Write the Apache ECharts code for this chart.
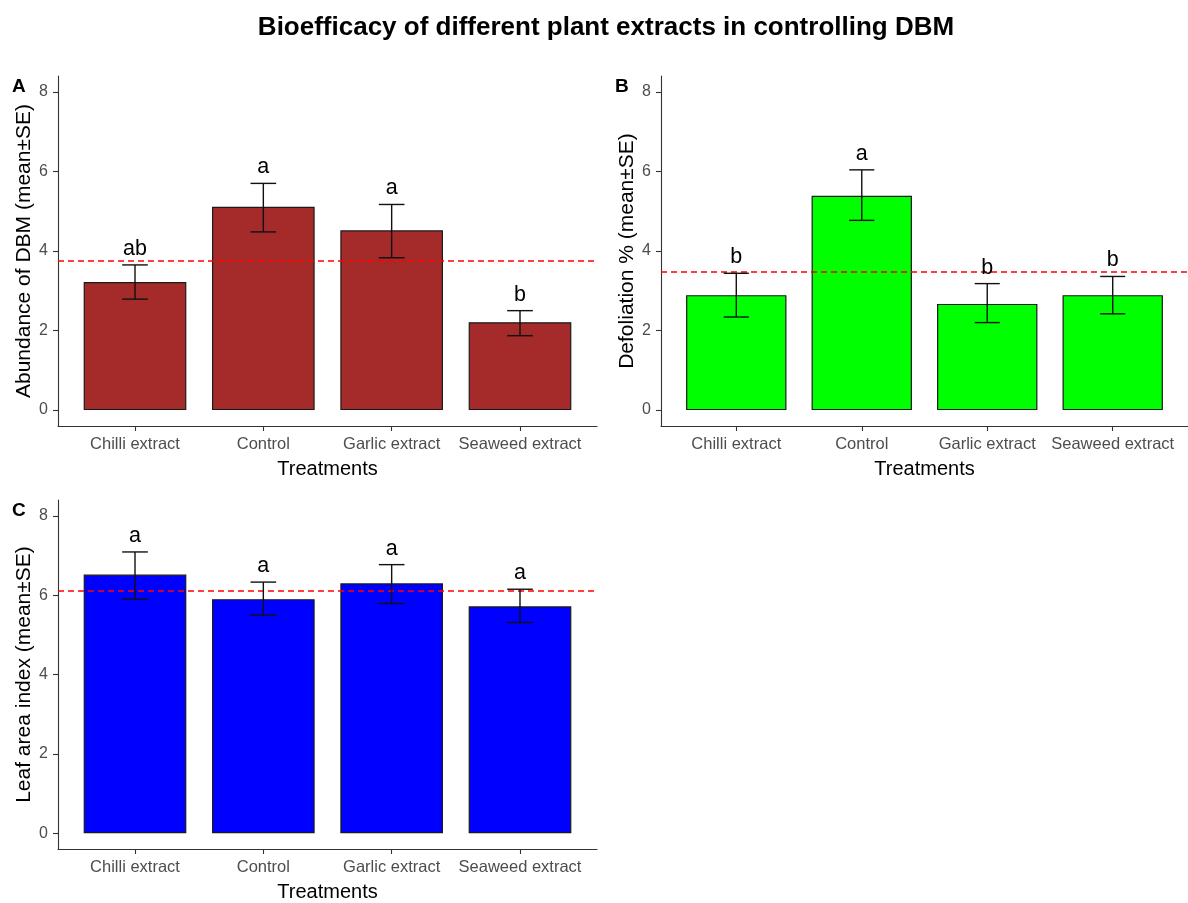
<!DOCTYPE html>
<html>
<head>
<meta charset="utf-8">
<script src="https://cdn.jsdelivr.net/npm/echarts@6/dist/echarts.min.js"></script>
<style>
html,body{margin:0;padding:0;background:#fff;}
#chart{width:1188px;height:903px;}
</style>
</head>
<body>
<div id="chart"></div>
<script>
// ---------- data ----------
const categories = ['Chilli extract', 'Control', 'Garlic extract', 'Seaweed extract'];
const categoryPositions = [1, 2, 3, 4];
const yTickValues = [0, 2, 4, 6, 8];

const abundanceMean = [3.22, 5.11, 4.52, 2.21];
const abundanceLow = [2.79, 4.48, 3.83, 1.87];
const abundanceHigh = [3.65, 5.70, 5.17, 2.50];
const abundanceLetters = ['ab', 'a', 'a', 'b'];
const abundanceOverall = 3.76;

const defoliationMean = [2.89, 5.39, 2.67, 2.89];
const defoliationLow = [2.34, 4.77, 2.20, 2.42];
const defoliationHigh = [3.44, 6.04, 3.18, 3.36];
const defoliationLetters = ['b', 'a', 'b', 'b'];
const defoliationOverall = 3.47;

const laiMean = [6.52, 5.90, 6.30, 5.72];
const laiLow = [5.90, 5.50, 5.79, 5.31];
const laiHigh = [7.09, 6.33, 6.77, 6.15];
const laiLetters = ['a', 'a', 'a', 'a'];
const laiOverall = 6.12;

const titleText = 'Bioefficacy of different plant extracts in controlling DBM';

// ---------- build ----------
const FONT = '"Liberation Sans", Arial, Helvetica, sans-serif';
const panels = [
  { tag: 'A', yName: 'Abundance of DBM (mean±SE)', mean: abundanceMean, low: abundanceLow, high: abundanceHigh, letters: abundanceLetters, overall: abundanceOverall, color: '#A52A2A',
    grid: { left: 58, top: 76, width: 539, height: 350 } },
  { tag: 'B', yName: 'Defoliation % (mean±SE)', mean: defoliationMean, low: defoliationLow, high: defoliationHigh, letters: defoliationLetters, overall: defoliationOverall, color: '#00FF00',
    grid: { left: 661, top: 76, width: 539, height: 350 } },
  { tag: 'C', yName: 'Leaf area index (mean±SE)', mean: laiMean, low: laiLow, high: laiHigh, letters: laiLetters, overall: laiOverall, color: '#0000FF',
    grid: { left: 58, top: 500, width: 539, height: 350 } }
];

const axisLineStyle = { color: '#333333', width: 1.1 };

const grids = [], xAxes = [], yAxes = [], series = [], graphics = [];

graphics.push({
  type: 'text', x: 606, y: 28,
  style: { text: titleText, fill: '#000', fontFamily: FONT, fontWeight: 'bold', fontSize: 26, align: 'center', verticalAlign: 'middle' }
});

panels.forEach((p, i) => {
  grids.push(Object.assign({ containLabel: false }, p.grid));
  xAxes.push({
    gridIndex: i, type: 'value', min: 0.4, max: 4.6,
    axisLine: { show: true, onZero: false, lineStyle: axisLineStyle },
    axisTick: { show: true, customValues: categoryPositions, length: 5, lineStyle: axisLineStyle },
    axisLabel: { customValues: categoryPositions, formatter: v => categories[Math.round(v) - 1], color: '#4D4D4D', fontSize: 16.5, fontFamily: FONT, margin: 10 },
    splitLine: { show: false },
    name: 'Treatments', nameLocation: 'middle', nameGap: 33,
    nameTextStyle: { color: '#000', fontSize: 20, fontFamily: FONT }
  });
  yAxes.push({
    gridIndex: i, type: 'value', min: -0.4, max: 8.4,
    axisLine: { show: true, onZero: false, lineStyle: axisLineStyle },
    axisTick: { show: true, customValues: yTickValues, length: 5, lineStyle: axisLineStyle },
    axisLabel: { customValues: yTickValues, color: '#4D4D4D', fontSize: 16, fontFamily: FONT, margin: 10 },
    splitLine: { show: false },
    name: p.yName, nameLocation: 'middle', nameGap: 22,
    nameTextStyle: { color: '#000', fontSize: 21, fontFamily: FONT }
  });
  series.push({
    type: 'bar', xAxisIndex: i, yAxisIndex: i,
    data: p.mean.map((v, k) => [categoryPositions[k], v]),
    barWidth: '80%',
    itemStyle: { color: p.color, borderColor: '#1a1a1a', borderWidth: 1.2 },
    markLine: {
      silent: true, symbol: ['none', 'none'],
      label: { show: false },
      lineStyle: { color: '#FF0000', type: [6, 4], width: 1.5 },
      data: [{ yAxis: p.overall }]
    }
  });
  const letters = p.letters;
  series.push({
    type: 'custom', xAxisIndex: i, yAxisIndex: i, clip: false,
    data: p.low.map((lo, k) => [categoryPositions[k], lo, p.high[k]]),
    encode: { x: 0, y: [1, 2] },
    renderItem: (params, api) => {
      const x = api.value(0);
      const lo = api.coord([x, api.value(1)]);
      const hi = api.coord([x, api.value(2)]);
      const hw = api.size([0.1, 0])[0];
      const st = { stroke: '#111111', lineWidth: 1.4 };
      return {
        type: 'group',
        children: [
          { type: 'line', shape: { x1: hi[0], y1: hi[1], x2: lo[0], y2: lo[1] }, style: st },
          { type: 'line', shape: { x1: hi[0] - hw, y1: hi[1], x2: hi[0] + hw, y2: hi[1] }, style: st },
          { type: 'line', shape: { x1: lo[0] - hw, y1: lo[1], x2: lo[0] + hw, y2: lo[1] }, style: st },
          { type: 'text', x: hi[0], y: hi[1] - 5,
            style: { text: letters[params.dataIndex], fill: '#000', fontSize: 21.5, fontFamily: FONT, align: 'center', verticalAlign: 'bottom' } }
        ]
      };
    },
    z: 5
  });
  graphics.push({
    type: 'text', x: p.grid.left - 46, y: p.grid.top + 11,
    style: { text: p.tag, fill: '#000', fontFamily: FONT, fontWeight: 'bold', fontSize: 19, align: 'left', verticalAlign: 'middle' }
  });
});

const chart = echarts.init(document.getElementById('chart'), null, { renderer: 'canvas' });
chart.setOption({
  animation: false,
  backgroundColor: '#ffffff',
  grid: grids,
  xAxis: xAxes,
  yAxis: yAxes,
  series: series,
  graphic: graphics
});
</script>
</body>
</html>
